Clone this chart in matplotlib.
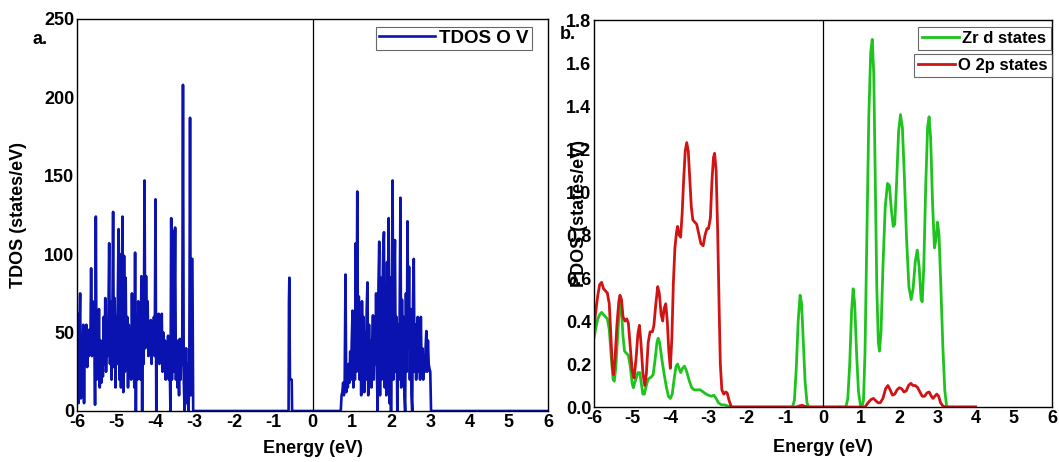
#!/usr/bin/env python3
import numpy as np
from matplotlib import pyplot as plt

plt.rcParams['font.family'] = ['Liberation Sans', 'DejaVu Sans']
plt.rcParams['font.weight'] = 'bold'
plt.rcParams['axes.unicode_minus'] = False

# %% TDOS with O vacancy (grid of 0.02 eV)
tdos_val_start, tdos_val_step = -6.00, 0.02
tdos_val = [
    45, 62, 5, 50, 75, 8, 48, 30, 55, 5,
    52, 40, 55, 28, 48, 35, 52, 38, 91, 35,
    70, 40, 60, 4, 124, 20, 55, 25, 65, 15,
    45, 18, 40, 22, 60, 30, 72, 25, 45, 35,
    60, 107, 30, 70, 20, 55, 127, 28, 72, 15,
    60, 30, 75, 116, 20, 100, 15, 75, 124, 12,
    99, 25, 85, 30, 60, 15, 55, 25, 45, 20,
    75, 30, 55, 15, 101, 0, 60, 20, 70, 35,
    55, 20, 86, 0, 75, 30, 147, 40, 86, 45,
    70, 35, 55, 40, 58, 30, 55, 40, 60, 35,
    135, 0, 58, 40, 62, 30, 60, 35, 62, 25,
    50, 30, 45, 20, 40, 28, 48, 20, 35, 0,
    123, 20, 115, 25, 60, 117, 20, 45, 15, 35,
    10, 46, 20, 40, 30, 208, 20, 0, 10, 40,
    5, 30, 0, 20, 187, 10, 97, 97, 0,
]
tdos_gap_e = [-3.02, -0.61, -0.60, -0.59, -0.575, -0.53, -0.52, 0.68]
tdos_gap = [0, 0, 70, 85, 20, 20, 0, 0]
tdos_cond_start, tdos_cond_step = 0.70, 0.02
tdos_cond = [
    0, 0, 10, 12, 18, 10, 20, 87, 12, 25,
    15, 30, 18, 38, 20, 45, 64, 15, 55, 20,
    107, 25, 140, 30, 73, 20, 55, 10, 70, 25,
    60, 12, 50, 20, 65, 82, 10, 55, 25, 45,
    15, 40, 61, 20, 55, 30, 75, 25, 0, 80,
    108, 10, 85, 20, 70, 101, 114, 15, 80, 10,
    95, 20, 123, 5, 85, 0, 60, 147, 20, 80,
    109, 25, 60, 0, 55, 20, 60, 136, 15, 71,
    30, 60, 10, 0, 75, 25, 121, 40, 92, 20,
    65, 10, 0, 70, 97, 25, 55, 20, 45, 60,
    25, 45, 20, 60, 25, 40, 20, 35, 25, 40,
    51, 25, 45, 30, 27, 25, 0,
]
tdos_tail_e = [3.04, 6.0]
tdos_tail = [0, 0]

# %% PDOS
zr_e = [-6.00, -5.95, -5.90, -5.85, -5.80, -5.75, -5.70, -5.65, -5.60, -5.55,
        -5.50, -5.47, -5.43, -5.38, -5.34, -5.31, -5.28, -5.24, -5.20, -5.15,
        -5.10, -5.05, -5.00, -4.97, -4.92, -4.85, -4.80, -4.76, -4.72, -4.68,
        -4.63, -4.58, -4.50, -4.45, -4.40, -4.35, -4.32, -4.28, -4.22, -4.16,
        -4.10, -4.05, -4.00, -3.95, -3.90, -3.85, -3.81, -3.77, -3.73, -3.68,
        -3.63, -3.58, -3.50, -3.44, -3.38, -3.30, -3.22, -3.14, -3.06, -3.00,
        -2.92, -2.86, -2.80, -2.74, -2.66, -2.58, -2.50, -2.42,
        -0.80, -0.75, -0.70, -0.65, -0.60, -0.56, -0.52, -0.47, -0.42, -0.38,
        0.60, 0.65, 0.70, 0.75, 0.79, 0.83, 0.88, 0.93, 0.98, 1.02,
        1.06, 1.10, 1.15, 1.20, 1.25, 1.29, 1.33, 1.37, 1.41, 1.45,
        1.48, 1.52, 1.57, 1.63, 1.69, 1.74, 1.79, 1.84, 1.88, 1.93,
        1.98, 2.03, 2.08, 2.13, 2.19, 2.25, 2.31, 2.36, 2.42, 2.47,
        2.52, 2.57, 2.60, 2.64, 2.69, 2.74, 2.78, 2.82, 2.87, 2.92,
        2.96, 3.00, 3.04, 3.09, 3.14, 3.19, 3.24, 4.00]
zr_d = [0.32, 0.37, 0.41, 0.43, 0.44, 0.43, 0.42, 0.41, 0.36, 0.24,
        0.13, 0.12, 0.18, 0.33, 0.45, 0.49, 0.45, 0.33, 0.26, 0.25,
        0.24, 0.19, 0.11, 0.09, 0.12, 0.16, 0.16, 0.11, 0.06, 0.06,
        0.10, 0.13, 0.14, 0.15, 0.22, 0.30, 0.32, 0.30, 0.22, 0.15,
        0.09, 0.05, 0.04, 0.06, 0.13, 0.19, 0.20, 0.18, 0.16, 0.18,
        0.19, 0.17, 0.12, 0.09, 0.08, 0.08, 0.08, 0.07, 0.06, 0.055,
        0.05, 0.055, 0.04, 0.02, 0.01, 0.01, 0.005, 0.0,
        0.0, 0.03, 0.18, 0.40, 0.52, 0.48, 0.32, 0.12, 0.02, 0.0,
        0.0, 0.04, 0.20, 0.45, 0.55, 0.48, 0.25, 0.07, 0.01, 0.0,
        0.03, 0.25, 0.80, 1.35, 1.65, 1.71, 1.55, 1.05, 0.55, 0.30,
        0.26, 0.35, 0.65, 0.93, 1.04, 1.03, 0.92, 0.84, 0.85, 1.05,
        1.28, 1.36, 1.30, 1.08, 0.78, 0.56, 0.50, 0.55, 0.68, 0.73,
        0.65, 0.50, 0.49, 0.65, 1.02, 1.30, 1.35, 1.25, 0.95, 0.74,
        0.78, 0.86, 0.80, 0.55, 0.28, 0.08, 0.0, 0.0]

o_e = [-6.00, -5.95, -5.90, -5.85, -5.80, -5.75, -5.70, -5.65, -5.60, -5.56,
       -5.52, -5.49, -5.45, -5.40, -5.35, -5.32, -5.28, -5.24, -5.19, -5.14,
       -5.10, -5.05, -5.00, -4.95, -4.90, -4.85, -4.81, -4.77, -4.72, -4.67,
       -4.63, -4.58, -4.53, -4.47, -4.43, -4.38, -4.33, -4.29, -4.24, -4.20,
       -4.16, -4.12, -4.08, -4.04, -4.00, -3.96, -3.92, -3.88, -3.84, -3.81,
       -3.77, -3.73, -3.69, -3.65, -3.61, -3.57, -3.53, -3.49, -3.45, -3.41,
       -3.36, -3.31, -3.26, -3.20, -3.14, -3.09, -3.04, -3.00, -2.95, -2.91,
       -2.87, -2.84, -2.80, -2.76, -2.72, -2.69, -2.65, -2.60, -2.55, -2.51,
       -2.46, -2.40, -0.70, -0.62, -0.55, -0.48, -0.40,
       1.10, 1.18, 1.26, 1.32, 1.38, 1.44, 1.50, 1.57, 1.64, 1.70,
       1.76, 1.82, 1.88, 1.94, 2.00, 2.06, 2.12, 2.18, 2.24, 2.30,
       2.36, 2.42, 2.48, 2.54, 2.60, 2.66, 2.72, 2.78, 2.84, 2.88,
       2.93, 2.98, 3.03, 3.08, 3.14, 3.20, 4.00]
o_2p = [0.37, 0.45, 0.52, 0.57, 0.58, 0.55, 0.54, 0.53, 0.48, 0.34,
        0.19, 0.15, 0.22, 0.38, 0.49, 0.52, 0.50, 0.42, 0.40, 0.41,
        0.39, 0.28, 0.17, 0.135, 0.22, 0.34, 0.38, 0.30, 0.16, 0.10,
        0.15, 0.30, 0.35, 0.35, 0.38, 0.48, 0.56, 0.53, 0.43, 0.40,
        0.46, 0.48, 0.40, 0.26, 0.18, 0.32, 0.58, 0.74, 0.81, 0.84,
        0.80, 0.79, 0.90, 1.06, 1.19, 1.23, 1.19, 1.06, 0.93, 0.87,
        0.86, 0.85, 0.81, 0.76, 0.75, 0.80, 0.83, 0.83, 0.88, 1.05,
        1.16, 1.18, 1.10, 0.82, 0.45, 0.20, 0.08, 0.06, 0.07, 0.065,
        0.03, 0.0, 0.0, 0.005, 0.008, 0.004, 0.0,
        0.0, 0.02, 0.035, 0.04, 0.03, 0.02, 0.02, 0.04, 0.085, 0.10,
        0.08, 0.055, 0.06, 0.08, 0.09, 0.085, 0.07, 0.075, 0.10, 0.11,
        0.10, 0.10, 0.09, 0.07, 0.05, 0.05, 0.065, 0.07, 0.05, 0.04,
        0.05, 0.06, 0.05, 0.02, 0.005, 0.0, 0.0]

xticks = [-6, -5, -4, -3, -2, -1, 0, 1, 2, 3, 4, 5, 6]

# %% assemble TDOS
e_val = tdos_val_start + tdos_val_step * np.arange(len(tdos_val))
e_cond = tdos_cond_start + tdos_cond_step * np.arange(len(tdos_cond))
tdos_e = np.concatenate([e_val, tdos_gap_e, e_cond, tdos_tail_e])
tdos = np.concatenate([tdos_val, tdos_gap, tdos_cond, tdos_tail])

# %% plot
fig = plt.figure(figsize=(10.59, 4.62), dpi=100)
ax1 = fig.add_axes([0.0727, 0.1104, 0.4448, 0.8485])
ax2 = fig.add_axes([0.5609, 0.119, 0.4325, 0.8377])

ax1.plot(tdos_e, tdos, color='#0a12b0', lw=1.9, label='TDOS O V')
ax1.axvline(0, color='black', lw=0.9)
ax1.set_xlim(-6, 6)
ax1.set_ylim(0, 250)
ax1.set_yticks([0, 50, 100, 150, 200, 250])
ax1.set_xticks(xticks)
ax1.set_xlabel('Energy (eV)', fontsize=13, fontweight='bold', labelpad=7)
ax1.set_ylabel('TDOS (states/eV)', fontsize=13, fontweight='bold', labelpad=12)
leg1 = ax1.legend(loc='upper right', fontsize=13.5, frameon=True, fancybox=False,
                  handlelength=3.0, handletextpad=0.2, borderpad=0.15,
                  borderaxespad=0.0, bbox_to_anchor=(0.965, 0.98))
leg1.get_frame().set_edgecolor('#444444')
leg1.get_frame().set_linewidth(0.8)
fig.text(0.031, 0.905, 'a.', fontsize=13, fontweight='bold')

ln_zr, = ax2.plot(zr_e, zr_d, color='#1ec31e', lw=2.0, label='Zr d states')
ln_o, = ax2.plot(o_e, o_2p, color='#d01414', lw=2.0, label='O 2p states')
ax2.axvline(0, color='black', lw=0.9)
ax2.set_xlim(-6, 6)
ax2.set_ylim(0, 1.8)
ax2.set_yticks([0.0, 0.2, 0.4, 0.6, 0.8, 1.0, 1.2, 1.4, 1.6, 1.8])
ax2.set_yticklabels(['0.0', '0.2', '0.4', '0.6', '0.8', '1.0', '1.2', '1.4', '1.6', '1.8'])
ax2.set_xticks(xticks)
ax2.set_xlabel('Energy (eV)', fontsize=13, fontweight='bold', labelpad=9)
ax2.set_ylabel('PDOS (states/eV)', fontsize=13, fontweight='bold', labelpad=-16)
leg_zr = ax2.legend(handles=[ln_zr], loc='upper right', bbox_to_anchor=(0.997, 0.983),
                    fontsize=12, fancybox=False, handlelength=2.2,
                    handletextpad=0.2, borderpad=0.25, borderaxespad=0.0)
ax2.add_artist(leg_zr)
leg_o = ax2.legend(handles=[ln_o], loc='upper right', bbox_to_anchor=(0.999, 0.913),
                   fontsize=12, fancybox=False, handlelength=2.2,
                   handletextpad=0.2, borderpad=0.25, borderaxespad=0.0)
for lg in (leg_zr, leg_o):
    lg.get_frame().set_edgecolor('#444444')
    lg.get_frame().set_linewidth(0.8)
fig.text(0.529, 0.915, 'b.', fontsize=13, fontweight='bold')

for ax in (ax1, ax2):
    ax.tick_params(length=0, pad=2, labelsize=13)
    for lab in ax.get_xticklabels() + ax.get_yticklabels():
        lab.set_fontweight('bold')
    for sp in ax.spines.values():
        sp.set_linewidth(1.0)

plt.savefig('out.png', dpi=100)
